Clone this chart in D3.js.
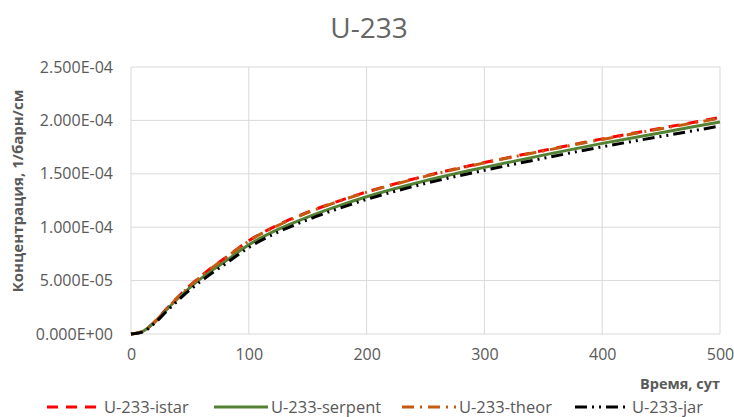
<!DOCTYPE html>
<html>
<head>
<meta charset="utf-8">
<script src="https://cdn.jsdelivr.net/npm/d3@7"></script>
<style>
  html, body { margin: 0; padding: 0; background: #fff; }
  svg { display: block; font-family: "Open Sans", "Noto Sans", sans-serif; }
</style>
</head>
<body>
<svg id="chart" width="734" height="417"></svg>
<script>
// Time points, days
const days = [0, 10, 20, 30, 40, 50, 60, 70, 80, 90, 100, 125, 150, 175, 200, 250, 300, 350, 400, 450, 500];

// U-233 concentration, 1/barn/cm (values in units of 1e-5)
const istar   = [0, 0.25, 1.13, 2.33, 3.47, 4.53, 5.47, 6.33, 7.12, 7.95, 8.73, 10.22, 11.40, 12.40, 13.30, 14.80, 16.05, 17.18, 18.27, 19.27, 20.27];
const serpent = [0, 0.25, 1.10, 2.25, 3.35, 4.35, 5.25, 6.05, 6.80, 7.60, 8.35, 9.80, 10.95, 11.95, 12.85, 14.35, 15.60, 16.75, 17.85, 18.85, 19.85];
const theor   = [0, 0.25, 1.12, 2.31, 3.45, 4.50, 5.44, 6.30, 7.10, 7.92, 8.70, 10.18, 11.37, 12.37, 13.27, 14.76, 16.02, 17.14, 18.22, 19.22, 20.20];
const jar     = [0, 0.20, 1.00, 2.10, 3.15, 4.13, 5.00, 5.80, 6.55, 7.35, 8.10, 9.55, 10.70, 11.70, 12.60, 14.10, 15.32, 16.45, 17.53, 18.50, 19.47];

const seriesNames = ["U-233-istar", "U-233-serpent", "U-233-theor", "U-233-jar"];
const xTicks = [0, 100, 200, 300, 400, 500];
const yTicks = [0, 5e-5, 1e-4, 1.5e-4, 2e-4, 2.5e-4];

const titleText = "U-233";
const xTitle = "Время, сут";
const yTitle = "Концентрация, 1/барн/см";

const series = [
  { name: seriesNames[0], values: istar,   color: "#FF0000", dash: "11,8" },
  { name: seriesNames[1], values: serpent, color: "#548235", dash: null },
  { name: seriesNames[2], values: theor,   color: "#C55A11", dash: "12,6,2,6" },
  { name: seriesNames[3], values: jar,     color: "#000000", dash: "12,5,2,5,2,5" }
];

const svg = d3.select("#chart");
const plot = { left: 131, right: 720, top: 67, bottom: 334 };

const x = d3.scaleLinear().domain([0, 500]).range([plot.left, plot.right]);
const y = d3.scaleLinear().domain([0, 2.5e-4]).range([plot.bottom, plot.top]);

// Gridlines
svg.append("g").selectAll("line.h").data(yTicks).join("line")
  .attr("x1", plot.left).attr("x2", plot.right)
  .attr("y1", d => y(d)).attr("y2", d => y(d))
  .attr("stroke", "#d9d9d9").attr("stroke-width", 1);
svg.append("g").selectAll("line.v").data(xTicks).join("line")
  .attr("x1", d => x(d)).attr("x2", d => x(d))
  .attr("y1", plot.top).attr("y2", plot.bottom)
  .attr("stroke", "#d9d9d9").attr("stroke-width", 1);

// Scientific tick format, e.g. 2.500E-04
const fmtY = d => {
  if (d === 0) return "0.000E+00";
  const e = Math.floor(Math.log10(d) + 1e-9);
  const m = d / Math.pow(10, e);
  const sign = e < 0 ? "-" : "+";
  return m.toFixed(3) + "E" + sign + String(Math.abs(e)).padStart(2, "0");
};

const yAxis = svg.append("g").attr("transform", `translate(${plot.left},0)`)
  .call(d3.axisLeft(y).tickValues(yTicks).tickFormat(fmtY).tickSize(0).tickPadding(18));
const xAxis = svg.append("g").attr("transform", `translate(0,${plot.bottom})`)
  .call(d3.axisBottom(x).tickValues(xTicks).tickFormat(d3.format("d")).tickSize(0).tickPadding(15));
[yAxis, xAxis].forEach(a => {
  a.select(".domain").remove();
  a.selectAll("text").attr("fill", "#595959").style("font-size", "16px").style("font-family", "'Open Sans', sans-serif");
});

// Series lines
const line = d3.line()
  .x((d, i) => x(days[i]))
  .y(d => y(d * 1e-5))
  .curve(d3.curveMonotoneX);

svg.append("g").selectAll("path").data(series).join("path")
  .attr("d", s => line(s.values))
  .attr("fill", "none")
  .attr("stroke", s => s.color)
  .attr("stroke-width", 3)
  .attr("stroke-dasharray", s => s.dash)
  .attr("stroke-linecap", "butt");

// Title
svg.append("text")
  .attr("x", 369).attr("y", 38)
  .attr("text-anchor", "middle")
  .attr("fill", "#666666")
  .style("font-size", "28px")
  .text(titleText);

// Axis titles
svg.append("text")
  .attr("transform", "translate(23,191) rotate(-90)")
  .attr("text-anchor", "middle")
  .attr("fill", "#595959")
  .style("font-size", "15px").style("font-weight", "bold")
  .text(yTitle);

svg.append("text")
  .attr("x", 720).attr("y", 389)
  .attr("text-anchor", "end")
  .attr("fill", "#595959")
  .style("font-size", "14.5px").style("font-weight", "bold")
  .text(xTitle);

// Legend
const legendX = [47, 214, 402, 575];
const legend = svg.append("g").selectAll("g").data(series).join("g")
  .attr("transform", (s, i) => `translate(${legendX[i]},413)`);
legend.append("line")
  .attr("x1", 0).attr("x2", 54).attr("y1", -6).attr("y2", -6)
  .attr("stroke", s => s.color).attr("stroke-width", 3)
  .attr("stroke-dasharray", s => s.dash);
legend.append("text")
  .attr("x", 57).attr("y", 0)
  .attr("fill", "#595959")
  .style("font-size", "16.5px")
  .text(s => s.name);
</script>
</body>
</html>
